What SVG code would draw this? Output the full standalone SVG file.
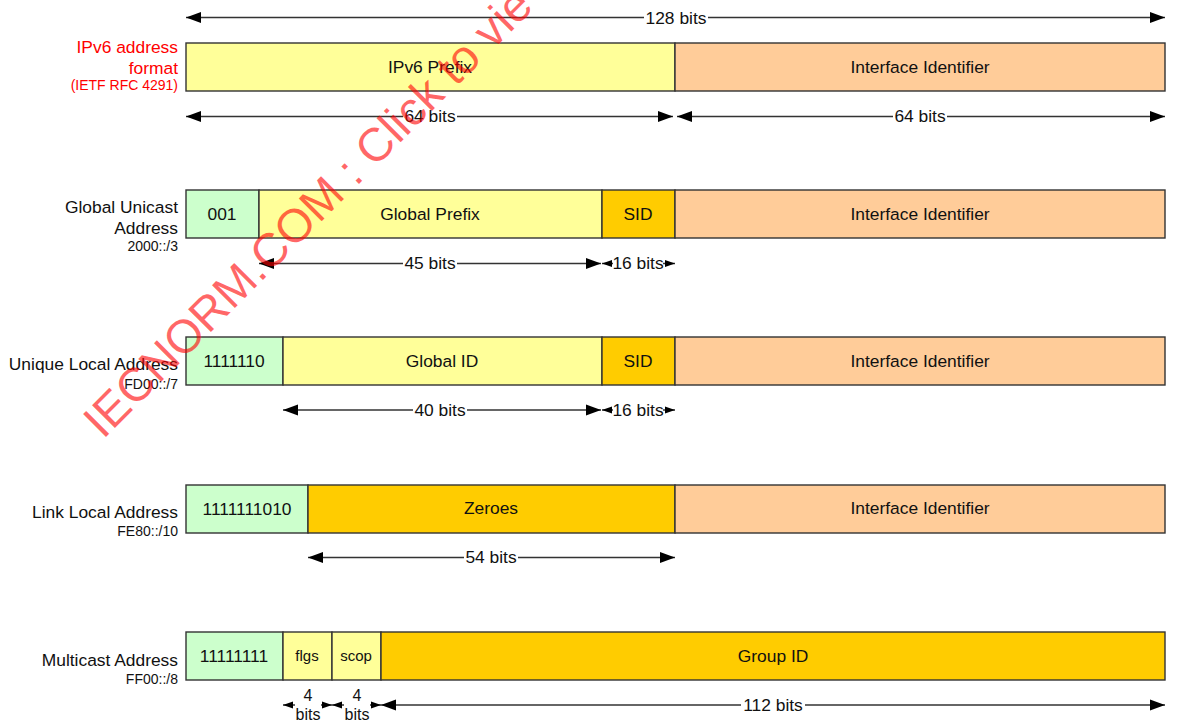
<svg xmlns="http://www.w3.org/2000/svg" width="1189" height="724" viewBox="0 0 1189 724">
<style>
text { font-family: "Liberation Sans", Arial, sans-serif; }
.box { stroke: #333; stroke-width: 1.4; }
.y { fill: #FFFF99; } .p { fill: #FFCC99; } .g { fill: #CCFFCC; } .o { fill: #FFCC00; }
.bt { font-size: 17.4px; fill: #111; text-anchor: middle; }
.st { font-size: 15px; fill: #111; text-anchor: middle; }
.lb { font-size: 17.4px; fill: #111; text-anchor: end; }
.sl { font-size: 14px; fill: #111; text-anchor: end; }
.red { fill: #FF0000; }
.dl { stroke: #333; stroke-width: 1.3; fill: none; }
.big { marker-start: url(#as); marker-end: url(#ae); }
.sm { marker-start: url(#ss); marker-end: url(#se); }
.bg { fill: #fff; }
.dt { font-size: 17.4px; fill: #111; text-anchor: middle; }
.ft { font-size: 16px; fill: #111; text-anchor: middle; }
.wm { font-size: 47px; fill: #FF0000; fill-opacity: 0.6; }
</style>
<defs>
<marker id="ae" markerUnits="userSpaceOnUse" markerWidth="16" markerHeight="12" refX="15" refY="6" orient="auto"><path d="M0,0.5 L15,6 L0,11.5 z" fill="#000"/></marker>
<marker id="as" markerUnits="userSpaceOnUse" markerWidth="16" markerHeight="12" refX="0" refY="6" orient="auto"><path d="M15,0.5 L0,6 L15,11.5 z" fill="#000"/></marker>
<marker id="se" markerUnits="userSpaceOnUse" markerWidth="11" markerHeight="9" refX="10" refY="4" orient="auto"><path d="M0,0.5 L10,4 L0,7.5 z" fill="#000"/></marker>
<marker id="ss" markerUnits="userSpaceOnUse" markerWidth="11" markerHeight="9" refX="0" refY="4" orient="auto"><path d="M10,0.5 L0,4 L10,7.5 z" fill="#000"/></marker>
</defs>
<rect width="1189" height="724" fill="#fff"/>

<!-- Row labels -->
<g id="label-ipv6">
<text class="lb red" x="178" y="53">IPv6 address</text>
<text class="lb red" x="178" y="74">format</text>
<text class="sl red" x="178" y="90">(IETF RFC 4291)</text>
</g>
<g id="label-global">
<text class="lb" x="178" y="213">Global Unicast</text>
<text class="lb" x="178" y="234">Address</text>
<text class="sl" x="178" y="251">2000::/3</text>
</g>
<g id="label-ula">
<text class="lb" x="178" y="370">Unique Local Address</text>
<text class="sl" x="178" y="389">FD00::/7</text>
</g>
<g id="label-ll">
<text class="lb" x="178" y="518">Link Local Address</text>
<text class="sl" x="178" y="536">FE80::/10</text>
</g>
<g id="label-mc">
<text class="lb" x="178" y="666">Multicast Address</text>
<text class="sl" x="178" y="684">FF00::/8</text>
</g>

<!-- Row 1 -->
<g id="r1-prefix"><rect class="box y" x="186" y="43" width="489" height="48"/><text class="bt" x="430" y="73">IPv6 Prefix</text></g>
<g id="r1-iid"><rect class="box p" x="675" y="43" width="490" height="48"/><text class="bt" x="920" y="73">Interface Identifier</text></g>

<!-- Row 2 -->
<g id="r2-001"><rect class="box g" x="186" y="190" width="73" height="48"/><text class="bt" x="222" y="220">001</text></g>
<g id="r2-gp"><rect class="box y" x="259" y="190" width="343" height="48"/><text class="bt" x="430" y="220">Global Prefix</text></g>
<g id="r2-sid"><rect class="box o" x="602" y="190" width="73" height="48"/><text class="bt" x="638" y="220">SID</text></g>
<g id="r2-iid"><rect class="box p" x="675" y="190" width="490" height="48"/><text class="bt" x="920" y="220">Interface Identifier</text></g>

<!-- Row 3 -->
<g id="r3-pre"><rect class="box g" x="186" y="337" width="97" height="48"/><text class="bt" x="234" y="367">1111110</text></g>
<g id="r3-gid"><rect class="box y" x="283" y="337" width="319" height="48"/><text class="bt" x="442" y="367">Global ID</text></g>
<g id="r3-sid"><rect class="box o" x="602" y="337" width="73" height="48"/><text class="bt" x="638" y="367">SID</text></g>
<g id="r3-iid"><rect class="box p" x="675" y="337" width="490" height="48"/><text class="bt" x="920" y="367">Interface Identifier</text></g>

<!-- Row 4 -->
<g id="r4-pre"><rect class="box g" x="186" y="485" width="122" height="48"/><text class="bt" x="247" y="515">1111111010</text></g>
<g id="r4-zero"><rect class="box o" x="308" y="485" width="367" height="48"/><text class="bt" x="491" y="514">Zeroes</text></g>
<g id="r4-iid"><rect class="box p" x="675" y="485" width="490" height="48"/><text class="bt" x="920" y="514">Interface Identifier</text></g>

<!-- Row 5 -->
<g id="r5-pre"><rect class="box g" x="186" y="632" width="97" height="48"/><text class="bt" x="234" y="662">11111111</text></g>
<g id="r5-flgs"><rect class="box y" x="283" y="632" width="49" height="48"/><text class="st" x="307" y="661">flgs</text></g>
<g id="r5-scop"><rect class="box y" x="332" y="632" width="49" height="48"/><text class="st" x="356" y="661">scop</text></g>
<g id="r5-gid"><rect class="box o" x="381" y="632" width="784" height="48"/><text class="bt" x="773" y="662">Group ID</text></g>

<!-- Connectors (dimension arrows) -->
<g id="connectors">
<line class="dl big" x1="186" y1="17.5" x2="1165" y2="17.5"/>
<rect class="bg" x="644" y="9" width="64" height="18"/><text class="dt" x="676" y="23.5">128 bits</text>

<line class="dl big" x1="186" y1="116.5" x2="673" y2="116.5"/>
<rect class="bg" x="403" y="108" width="54" height="18"/><text class="dt" x="430" y="122">64 bits</text>
<line class="dl big" x1="677" y1="116.5" x2="1165" y2="116.5"/>
<rect class="bg" x="893" y="108" width="54" height="18"/><text class="dt" x="920" y="122">64 bits</text>

<line class="dl big" x1="259" y1="263.5" x2="601" y2="263.5"/>
<rect class="bg" x="403" y="255" width="54" height="18"/><text class="dt" x="430" y="269">45 bits</text>
<line class="dl sm" x1="602" y1="263.5" x2="675" y2="263.5"/>
<rect class="bg" x="613" y="255" width="50" height="18"/><text class="dt" x="638" y="269">16 bits</text>

<line class="dl big" x1="283" y1="410" x2="601" y2="410"/>
<rect class="bg" x="413" y="401" width="54" height="18"/><text class="dt" x="440" y="415.5">40 bits</text>
<line class="dl sm" x1="602" y1="410" x2="675" y2="410"/>
<rect class="bg" x="613" y="401" width="50" height="18"/><text class="dt" x="638" y="415.5">16 bits</text>

<line class="dl big" x1="308" y1="557.5" x2="675" y2="557.5"/>
<rect class="bg" x="464" y="549" width="54" height="18"/><text class="dt" x="491" y="563">54 bits</text>

<line class="dl sm" x1="283" y1="705" x2="332" y2="705"/>
<rect class="bg" x="295" y="704" width="26" height="18"/>
<text class="ft"><tspan x="308" y="701">4</tspan><tspan x="308" y="720">bits</tspan></text>
<line class="dl sm" x1="332" y1="705" x2="381" y2="705"/>
<rect class="bg" x="344" y="704" width="26" height="18"/>
<text class="ft"><tspan x="357" y="701">4</tspan><tspan x="357" y="720">bits</tspan></text>
<line class="dl big" x1="381" y1="705" x2="1165" y2="705"/>
<rect class="bg" x="741" y="696" width="64" height="18"/><text class="dt" x="773" y="711">112 bits</text>
</g>

<!-- Watermark -->
<text class="wm" transform="translate(103,440) rotate(-45)">IECNORM.COM : Click to vie</text>
</svg>
